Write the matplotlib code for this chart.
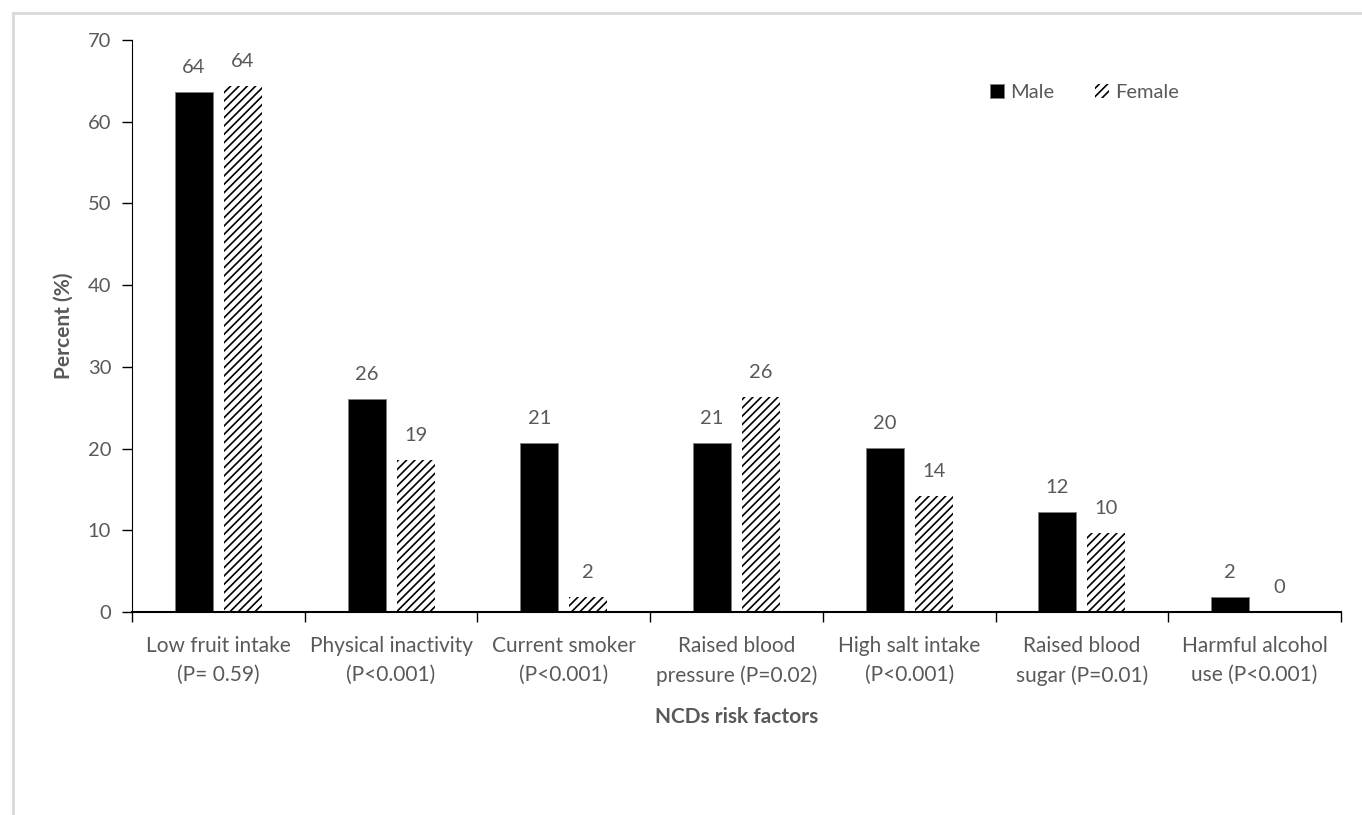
import numpy as np
import matplotlib
matplotlib.use("Agg")
from matplotlib import pyplot as plt
from matplotlib.lines import Line2D

# data
categories = ["Low fruit intake\n(P= 0.59)", "Physical inactivity\n(P<0.001)",
              "Current smoker\n(P<0.001)", "Raised blood\npressure (P=0.02)",
              "High salt intake\n(P<0.001)", "Raised blood\nsugar (P=0.01)",
              "Harmful alcohol\nuse (P<0.001)"]
male = [63.6, 26.1, 20.7, 20.7, 20.1, 12.2, 1.8]
female = [64.4, 18.6, 1.8, 26.3, 14.2, 9.7, 0.0]

grey = "#595959"
plt.rcParams['font.family'] = ['Lato', 'DejaVu Sans']
plt.rcParams['hatch.linewidth'] = 1.2

fig = plt.figure(figsize=(13.62, 8.15), dpi=100)
ax = fig.add_axes([0.0969, 0.2491, 0.8877, 0.7018])

# light grey frame (only top and left edges show in the picture)
fx, fy = 12.5 / 1362, 1 - 12.5 / 815
fig.add_artist(Line2D([fx, 1], [fy, fy], transform=fig.transFigure, color="#d9d9d9", lw=2))
fig.add_artist(Line2D([fx, fx], [0, fy], transform=fig.transFigure, color="#d9d9d9", lw=2))

x = np.arange(len(categories))
w = 0.22
off = 0.142
b1 = ax.bar(x - off, male, w, color="black", edgecolor="#7f7f7f", linewidth=0.6, label="Male")
b2 = ax.bar(x + off, female, w, color="white", edgecolor="black", linewidth=0,
            hatch="////", label="Female")

for bars, vals in ((b1, male), (b2, female)):
    for r, v in zip(bars, vals):
        ax.text(r.get_x() + r.get_width() / 2, v + 3.0, "%d" % round(v),
                ha="center", va="center", fontsize=14.5, color=grey)

ax.set_xlim(-0.5, len(categories) - 0.5)
ax.set_ylim(0, 70)
ax.set_yticks(range(0, 71, 10))
ax.set_xticks(np.arange(-0.5, len(categories), 1.0))
ax.set_xticklabels([])
ax.set_xticks(x, minor=True)
ax.set_xticklabels(categories, minor=True, fontsize=15, color=grey, linespacing=1.6)
ax.tick_params(axis="x", which="minor", length=0, pad=17)
ax.tick_params(axis="x", which="major", length=7, width=1, direction="out")
ax.tick_params(axis="y", length=7, width=1, labelsize=14.5, labelcolor=grey, pad=8)

for s in ("top", "right"):
    ax.spines[s].set_visible(False)
ax.spines["left"].set_color("black")
ax.spines["bottom"].set_color("black")
ax.spines["bottom"].set_linewidth(1.5)

ax.set_ylabel("Percent (%)", fontsize=15, fontweight="bold", color=grey, labelpad=10)
ax.set_xlabel("NCDs risk factors", fontsize=15, fontweight="bold", color=grey, labelpad=15)

leg = ax.legend(loc="upper left", bbox_to_anchor=(0.695, 0.955), ncol=2, frameon=False,
                fontsize=14.5, handlelength=0.7, handleheight=0.7, handletextpad=0.3,
                columnspacing=2.0)
for t in leg.get_texts():
    t.set_color(grey)

fig.savefig("out.png", dpi=100)
